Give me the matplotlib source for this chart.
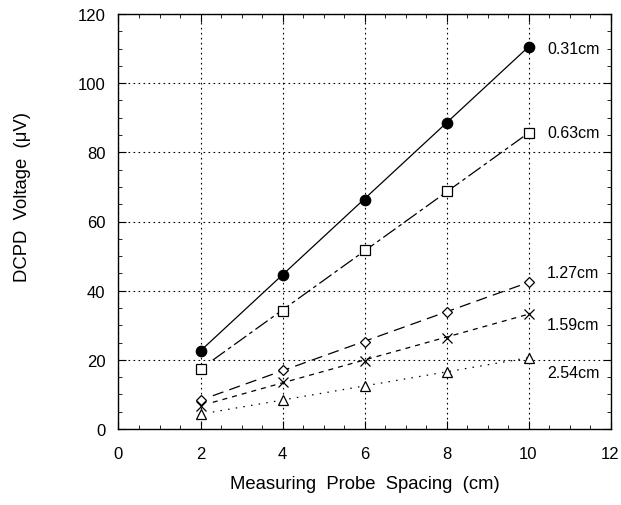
import numpy as np
import matplotlib
matplotlib.use('Agg')
import matplotlib.pyplot as plt
from matplotlib.ticker import MultipleLocator

plt.rcParams['font.family'] = ['Liberation Sans', 'DejaVu Sans']

# probe spacing (cm) and DCPD voltage (uV) for each crack depth
spacing = [2, 4, 6, 8, 10]
labels = ['0.31cm', '0.63cm', '1.27cm', '1.59cm', '2.54cm']
v_031 = [22.6, 44.6, 66.3, 88.5, 110.5]
v_063 = [17.4, 34.2, 51.9, 68.7, 85.6]
v_127 = [8.3, 17.1, 25.1, 33.7, 42.4]
v_159 = [6.7, 13.5, 19.8, 26.4, 33.2]
v_254 = [4.3, 8.4, 12.5, 16.4, 20.6]
label_y = [110, 85.6, 45.3, 30.3, 16.4]

series = [v_031, v_063, v_127, v_159, v_254]
markers = ['o', 's', 'D', 'x', '^']
msizes = [7.5, 7, 5.5, 7, 6.5]
filled = [True, False, False, False, False]
dashes = [None, (12, 3, 3, 3), (9, 5), (4, 4), (1.2, 5)]
line_start = [2.0, 2.3, 2.3, 2.3, 2.3]

fig = plt.figure(figsize=(6.21, 5.06), dpi=100)
ax = fig.add_axes([118.5 / 621, 1 - 430 / 506, (610.5 - 118.5) / 621, (430 - 15) / 506])

for y, m, ms, f, d, x0, lab, ly in zip(series, markers, msizes, filled, dashes,
                                       line_start, labels, label_y):
    xs = np.array([x0, spacing[-1]])
    ys = np.interp(xs, spacing, y)
    line, = ax.plot(xs, ys, color='black', lw=0.9)
    if d is not None:
        line.set_dashes(d)
    ax.plot(spacing, y, linestyle='none', marker=m, ms=ms,
            mfc='black' if f else 'white', mec='black', mew=0.9, zorder=3)
    ax.text(10.45, ly, lab, fontsize=11.5, va='center', ha='left')

ax.set_xlim(0, 12)
ax.set_ylim(0, 120)
ax.xaxis.set_major_locator(MultipleLocator(2))
ax.xaxis.set_minor_locator(MultipleLocator(0.5))
ax.yaxis.set_major_locator(MultipleLocator(20))
ax.yaxis.set_minor_locator(MultipleLocator(5))
ax.tick_params(which='both', direction='in', top=True, right=True, labelsize=12)
ax.tick_params(which='major', length=6)
ax.tick_params(which='minor', length=3)
ax.tick_params(axis='x', pad=12)
ax.tick_params(axis='y', pad=9.5)
ax.grid(True, which='major', linestyle=(0, (1.5, 3)), color='black', lw=0.8)
ax.set_axisbelow(True)
for s in ax.spines.values():
    s.set_linewidth(1.0)

ax.set_xlabel('Measuring  Probe  Spacing  (cm)', fontsize=13.3)
ax.xaxis.set_label_coords(0.5, -0.111)
ax.set_ylabel('DCPD  Voltage  (\u03bcV)', fontsize=13.3, va='center')
ax.yaxis.set_label_coords(-0.196, 0.561)

fig.savefig('out.png', dpi=100)
